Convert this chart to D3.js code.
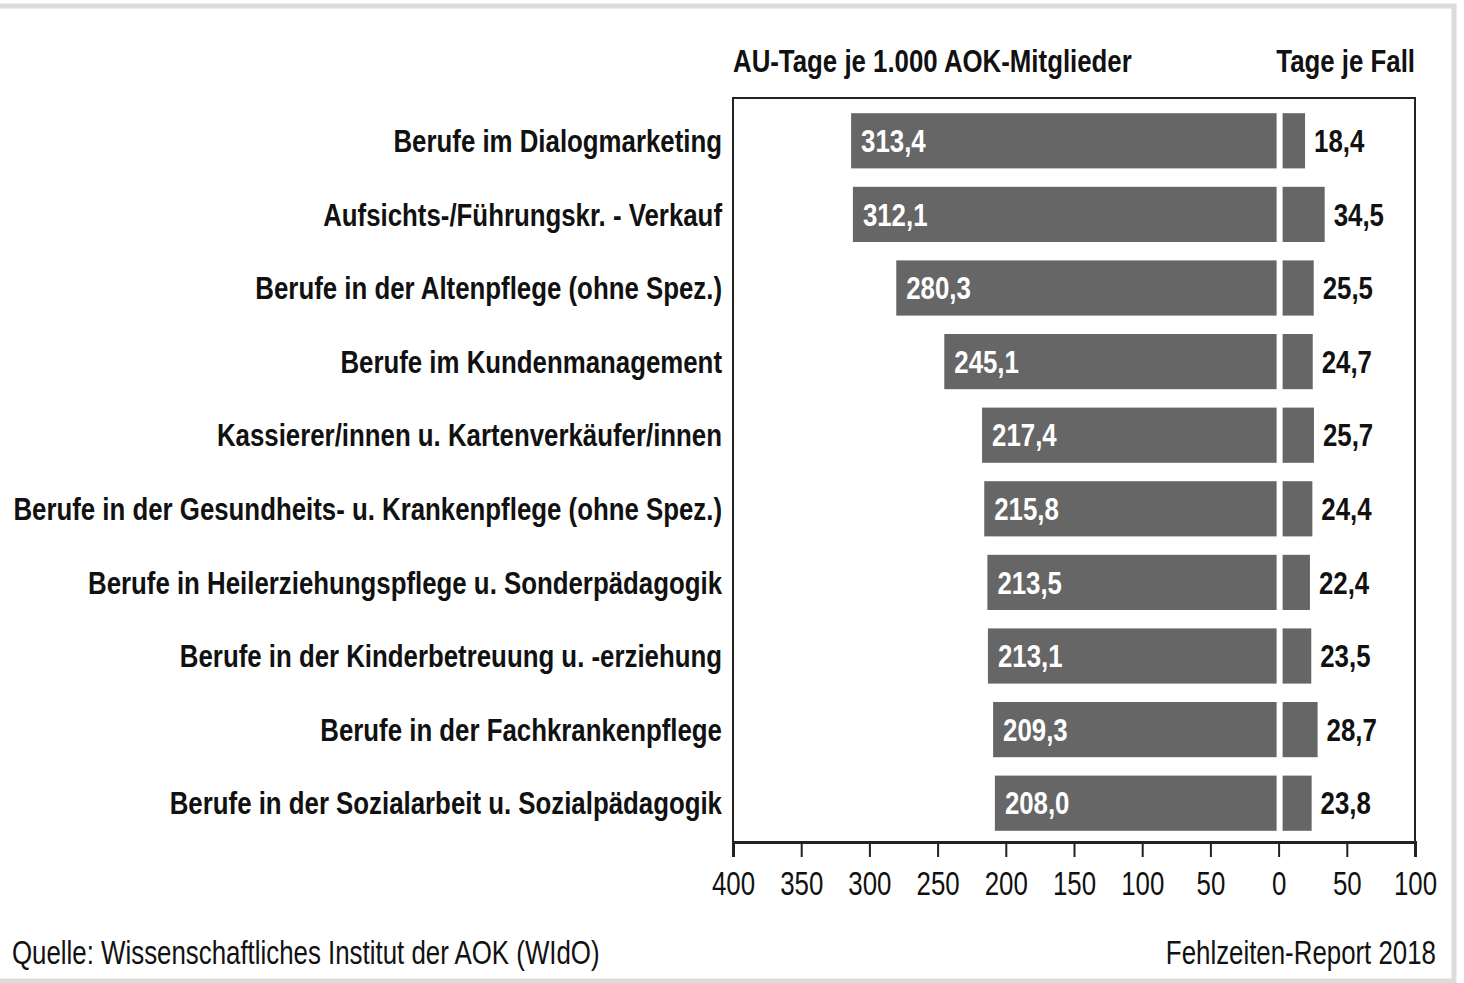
<!DOCTYPE html>
<html lang="de">
<head>
<meta charset="UTF-8">
<title>AU-Tage je 1.000 AOK-Mitglieder</title>
<script src="https://cdnjs.cloudflare.com/ajax/libs/d3/7.8.5/d3.min.js"></script>
<style>
    body { margin: 0; background: #fff; }
    svg { display: block; font-family: "Liberation Sans", Arial, sans-serif; }
    .lbl { font-size: 31px; font-weight: bold; fill: #111; }
    .reg { font-size: 34px; fill: #111; }
    .tick text { font-size: 34px; fill: #111; font-family: "Liberation Sans", Arial, sans-serif; }
</style>
</head>
<body>
<svg id="chart" width="1464" height="983"></svg>
<script>
const categories = [
    "Berufe im Dialogmarketing",
    "Aufsichts-/Führungskr. - Verkauf",
    "Berufe in der Altenpflege (ohne Spez.)",
    "Berufe im Kundenmanagement",
    "Kassierer/innen u. Kartenverkäufer/innen",
    "Berufe in der Gesundheits- u. Krankenpflege (ohne Spez.)",
    "Berufe in Heilerziehungspflege u. Sonderpädagogik",
    "Berufe in der Kinderbetreuung u. -erziehung",
    "Berufe in der Fachkrankenpflege",
    "Berufe in der Sozialarbeit u. Sozialpädagogik"
];
const auTage = [313.4, 312.1, 280.3, 245.1, 217.4, 215.8, 213.5, 213.1, 209.3, 208.0];
const tageJeFall = [18.4, 34.5, 25.5, 24.7, 25.7, 24.4, 22.4, 23.5, 28.7, 23.8];
const tickValues = [-400, -350, -300, -250, -200, -150, -100, -50, 0, 50, 100];

const fmt = v => v.toFixed(1).replace(".", ",");

// the source uses a condensed Helvetica; squeeze the glyphs horizontally
// around each text's own anchor point
function squeeze(sel, k) {
    sel.each(function () {
        const t = d3.select(this);
        const ax = +t.attr("x") || 0;
        t.attr("transform", `translate(${ax},0) scale(${k},1) translate(${-ax},0)`);
    });
}

const svg = d3.select("#chart");

// light grey page frame
svg.append("path")
    .attr("d", "M0,6 H1454 V981 H0")
    .attr("fill", "none")
    .attr("stroke", "#dcdcdc")
    .attr("stroke-width", 5);

const plotL = 733, plotR = 1415, plotT = 98, plotB = 842;

// one axis: negative side = AU-Tage, positive side = Tage je Fall
const x = d3.scaleLinear().domain([-400, 100]).range([plotL, plotR]);
// right bars in the source are drawn a bit shorter than the axis suggests
const xr = d3.scaleLinear().domain([0, 100]).range([x(0) + 4, x(0) + 4 + 122]);

const y = d3.scaleBand().domain(categories).range([104, 840])
    .paddingInner(0.25).paddingOuter(0.125);

// frame
svg.append("path")
    .attr("d", `M${plotL},${plotB} V${plotT} H${plotR} V${plotB}`)
    .attr("fill", "none")
    .attr("stroke", "#222")
    .attr("stroke-width", 2);

const rows = svg.selectAll(".row")
    .data(categories.map((c, i) => ({ c, au: auTage[i], tf: tageJeFall[i] })))
    .enter().append("g")
    .attr("class", "row");

rows.append("rect")
    .attr("x", d => x(-d.au))
    .attr("y", d => y(d.c))
    .attr("width", d => x(0) - 2 - x(-d.au))
    .attr("height", y.bandwidth())
    .attr("fill", "#666");

rows.append("rect")
    .attr("x", xr(0))
    .attr("y", d => y(d.c))
    .attr("width", d => xr(d.tf) - xr(0))
    .attr("height", y.bandwidth())
    .attr("fill", "#666");

const catLabels = rows.append("text")
    .attr("class", "lbl")
    .attr("x", 722)
    .attr("y", d => y(d.c) + y.bandwidth() / 2)
    .attr("dy", "0.36em")
    .attr("text-anchor", "end")
    .text(d => d.c);

rows.append("text")
    .attr("class", "lbl")
    .attr("x", d => x(-d.au) + 10)
    .attr("y", d => y(d.c) + y.bandwidth() / 2)
    .attr("dy", "0.36em")
    .style("fill", "#fff")
    .text(d => fmt(d.au));

rows.append("text")
    .attr("class", "lbl")
    .attr("x", d => xr(d.tf) + 9)
    .attr("y", d => y(d.c) + y.bandwidth() / 2)
    .attr("dy", "0.36em")
    .text(d => fmt(d.tf));

// axis
const axis = svg.append("g")
    .attr("transform", `translate(0,${plotB})`)
    .call(d3.axisBottom(x).tickValues(tickValues).tickSize(15).tickPadding(14)
        .tickFormat(d => Math.abs(d)));
axis.select(".domain").attr("stroke", "#222").attr("stroke-width", 3);
axis.selectAll(".tick line").attr("stroke", "#222").attr("stroke-width", 2);

// headers
svg.append("text").attr("class", "lbl")
    .attr("x", plotL).attr("y", 72)
    .text("AU-Tage je 1.000 AOK-Mitglieder");
svg.append("text").attr("class", "lbl")
    .attr("x", plotR).attr("y", 72).attr("text-anchor", "end")
    .text("Tage je Fall");

// footer
const source = svg.append("text").attr("class", "reg")
    .attr("x", 12).attr("y", 964)
    .text("Quelle: Wissenschaftliches Institut der AOK (WIdO)");
svg.append("text").attr("class", "reg")
    .attr("x", 1436).attr("y", 964).attr("text-anchor", "end")
    .text("Fehlzeiten-Report 2018");

// compression factors: longest label fills the left margin, source line ~588px
const longest = d3.max(catLabels.nodes(), n => n.getComputedTextLength());
const kBold = 709 / longest;
const kReg = 588 / source.node().getComputedTextLength();
squeeze(svg.selectAll(".lbl"), kBold);
squeeze(svg.selectAll(".reg, .tick text"), kReg);
</script>
</body>
</html>
